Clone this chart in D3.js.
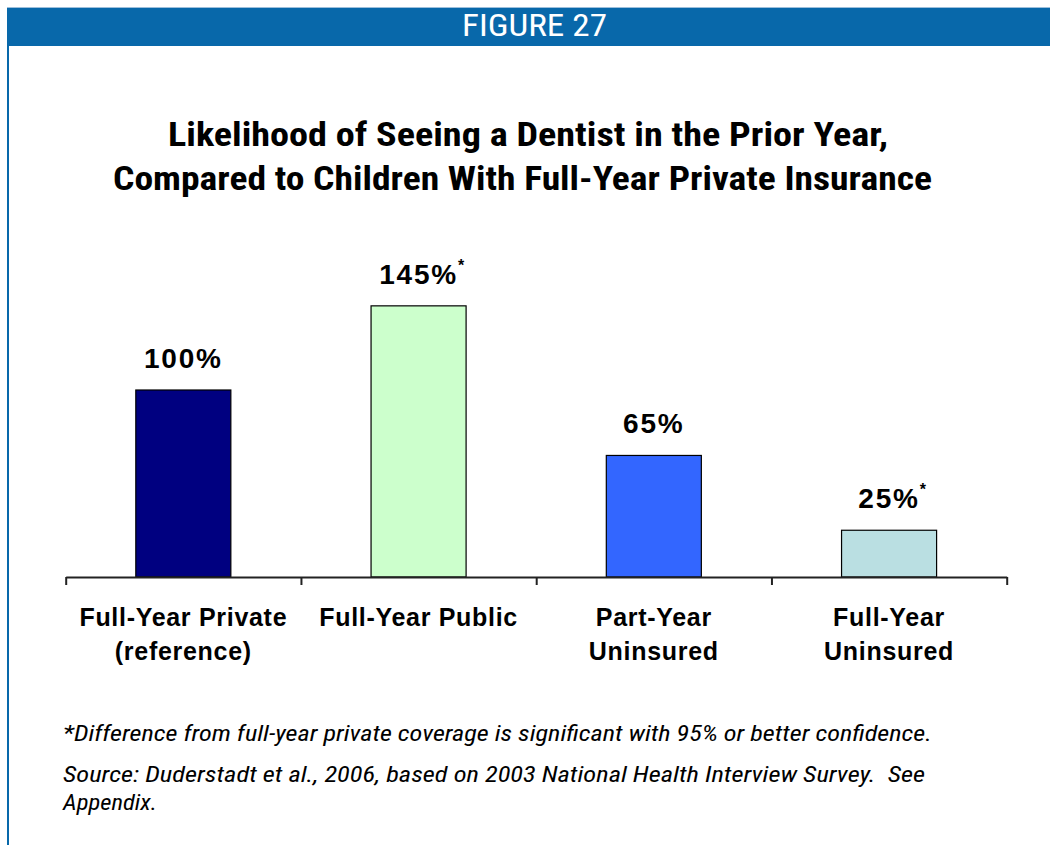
<!DOCTYPE html>
<html>
<head>
<meta charset="utf-8">
<script src="https://cdn.jsdelivr.net/npm/d3@7"></script>
<style>
  html, body { margin: 0; padding: 0; background: #fff; }
  svg { display: block; }
  text { white-space: pre; }
</style>
</head>
<body>
<svg id="chart" width="1050" height="845"></svg>
<script>
// Coverage groups and likelihood relative to full-year private (= 100%)
const categories = ["Full-Year Private (reference)", "Full-Year Public", "Part-Year Uninsured", "Full-Year Uninsured"];
const categoryLines = [["Full-Year Private", "(reference)"], ["Full-Year Public"], ["Part-Year", "Uninsured"], ["Full-Year", "Uninsured"]];
const values = [100, 145, 65, 25];
const significant = [false, true, false, true];
const barColors = ["#000080", "#CCFFCC", "#3366FF", "#BADFE2"];

const headerText = "FIGURE 27";
const titleLines = ["Likelihood of Seeing a Dentist in the Prior Year,", "Compared to Children With Full-Year Private Insurance"];
const noteLines = ["*Difference from full-year private coverage is significant with 95% or better confidence."];
const sourceLines = ["Source: Duderstadt et al., 2006, based on 2003 National Health Interview Survey.  See", "Appendix."];

const svg = d3.select("#chart");
const blue = "#0868AA";
const narrow = "'Liberation Sans Narrow', 'Arial Narrow', 'Roboto Condensed', Roboto, sans-serif";
const sans = "'Liberation Sans', Arial, sans-serif";

svg.append("rect").attr("width", 1050).attr("height", 845).attr("fill", "#fff");

// Header band and frame
svg.append("rect").attr("x", 7).attr("y", 7).attr("width", 1043).attr("height", 1).attr("fill", "#9DBFDB");
svg.append("rect").attr("x", 7).attr("y", 8).attr("width", 1043).attr("height", 38).attr("fill", blue);
svg.append("rect").attr("x", 7).attr("y", 45).attr("width", 2).attr("height", 800).attr("fill", blue);

svg.append("text")
  .attr("x", 534.5).attr("y", 36)
  .attr("text-anchor", "middle")
  .attr("fill", "#fff")
  .attr("font-family", narrow)
  .attr("font-size", 31)
  .attr("textLength", 145).attr("lengthAdjust", "spacingAndGlyphs")
  .text(headerText);

// Title
const titleWidths = [720, 819];
const titleX = [528, 522.5];
titleLines.forEach((t, i) => {
  svg.append("text")
    .attr("x", titleX[i]).attr("y", 146 + i * 44)
    .attr("text-anchor", "middle")
    .attr("fill", "#000")
    .attr("font-family", narrow)
    .attr("font-weight", "bold")
    .attr("font-size", 33)
    .attr("textLength", titleWidths[i]).attr("lengthAdjust", "spacingAndGlyphs")
    .text(t);
});

// Scales
const x0 = 65.7, x1 = 1006.7, baseY = 577;
const x = d3.scaleBand().domain(categories).range([x0, x1]).paddingInner(0.596).paddingOuter(0.298);
const y = d3.scaleLinear().domain([0, 160]).range([baseY, baseY - 1.87 * 160]);

// Bars
svg.append("g").selectAll("rect")
  .data(values)
  .join("rect")
  .attr("x", (d, i) => x(categories[i]))
  .attr("y", d => y(d))
  .attr("width", x.bandwidth())
  .attr("height", d => y(0) - y(d))
  .attr("fill", (d, i) => barColors[i])
  .attr("stroke", "#000")
  .attr("stroke-width", 1.2);

// Value labels
const labels = svg.append("g").selectAll("text")
  .data(values)
  .join("text")
  .attr("x", (d, i) => x(categories[i]) + x.bandwidth() / 2 + (significant[i] ? 4 : 0))
  .attr("y", d => y(d) - 22)
  .attr("text-anchor", "middle")
  .attr("font-family", sans)
  .attr("font-weight", "bold")
  .attr("font-size", 28)
  .attr("letter-spacing", 1.8)
  .attr("fill", "#000");
labels.append("tspan").text(d => d + "%");
labels.filter((d, i) => significant[i])
  .append("tspan")
  .attr("dy", -13)
  .attr("dx", 0)
  .attr("font-size", 16)
  .text("*");

// Category axis with tick marks at group boundaries
const tickScale = d3.scaleLinear().domain([0, categories.length]).range([x0, x1]);
const axis = svg.append("g")
  .attr("transform", `translate(0,${baseY})`)
  .call(d3.axisBottom(tickScale)
    .tickValues(d3.range(categories.length + 1))
    .tickFormat("")
    .tickSizeInner(8)
    .tickSizeOuter(0));
axis.select(".domain").attr("stroke", "#222").attr("stroke-width", 2);
axis.selectAll(".tick line").attr("stroke", "#222").attr("stroke-width", 2);

// Category labels
categoryLines.forEach((lines, i) => {
  lines.forEach((line, j) => {
    svg.append("text")
      .attr("x", x(categories[i]) + x.bandwidth() / 2)
      .attr("y", 626 + j * 34)
      .attr("text-anchor", "middle")
      .attr("font-family", sans)
      .attr("font-weight", "bold")
      .attr("font-size", 25)
      .attr("letter-spacing", 0.7)
      .attr("fill", "#000")
      .text(line);
  });
});

// Footnotes
const noteWidths = [869];
noteLines.forEach((t, i) => {
  svg.append("text")
    .attr("x", 63).attr("y", 741)
    .attr("font-family", narrow)
    .attr("font-style", "italic")
    .attr("font-size", 22)
    .attr("fill", "#000")
    .attr("textLength", noteWidths[i]).attr("lengthAdjust", "spacingAndGlyphs")
    .text(t);
});
const sourceWidths = [862, 94];
sourceLines.forEach((t, i) => {
  svg.append("text")
    .attr("x", 63).attr("y", 782 + i * 28)
    .attr("font-family", narrow)
    .attr("font-style", "italic")
    .attr("font-size", 22)
    .attr("fill", "#000")
    .attr("textLength", sourceWidths[i]).attr("lengthAdjust", "spacingAndGlyphs")
    .text(t);
});
</script>
</body>
</html>
